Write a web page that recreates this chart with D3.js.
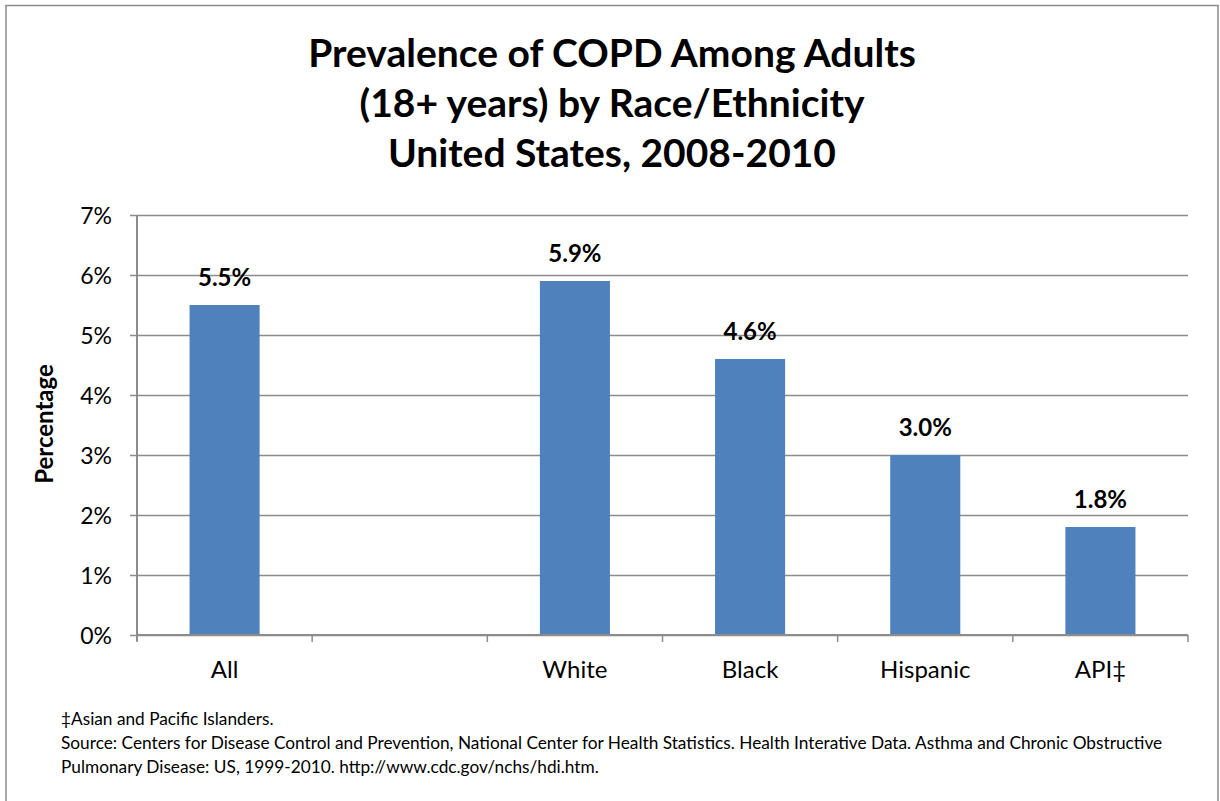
<!DOCTYPE html>
<html>
<head>
<meta charset="utf-8">
<script src="https://cdn.jsdelivr.net/npm/d3@7"></script>
<style>
  body { margin: 0; background: #fff; }
  svg { display: block; font-family: Lato, "Open Sans", sans-serif; }
</style>
</head>
<body>
<svg id="chart" width="1220" height="801"></svg>
<script>
// chart data
var categories = ['All', '', 'White', 'Black', 'Hispanic', 'API\u2021'];
var prevalence = [5.5, null, 5.9, 4.6, 3.0, 1.8];
var valueLabels = ['5.5%', '', '5.9%', '4.6%', '3.0%', '1.8%'];
var yTicks = [0, 1, 2, 3, 4, 5, 6, 7];
var titleLines = ['Prevalence of COPD Among Adults', '(18+ years) by Race/Ethnicity', 'United States, 2008-2010'];
var footnotes = [
    '\u2021Asian and Pacific Islanders.',
    'Source: Centers for Disease Control and Prevention, National Center for Health Statistics. Health Interative Data. Asthma and Chronic Obstructive',
    'Pulmonary Disease: US, 1999-2010. http://www.cdc.gov/nchs/hdi.htm.'
];

var svg = d3.select('#chart'),
    gridColor = '#8c8c8c',
    barColor = '#4f81bd';

var margin = { top: 215, right: 32, bottom: 166, left: 137 },
    width = 1220 - margin.left - margin.right,
    height = 801 - margin.top - margin.bottom;

// outer frame (bottom edge runs off the picture)
svg.append('path')
    .attr('d', 'M6,810 V5.5 H1218 V810')
    .attr('fill', 'none')
    .attr('stroke', gridColor)
    .attr('stroke-width', 1.5);

// title
svg.append('g').selectAll('text')
    .data(titleLines)
    .enter().append('text')
    .attr('x', 612)
    .attr('y', function (d, i) { return 67 + i * 50; })
    .attr('text-anchor', 'middle')
    .attr('font-size', 39)
    .attr('font-weight', 'bold')
    .attr('fill', '#000')
    .text(function (d) { return d; });

var g = svg.append('g')
    .attr('transform', 'translate(' + margin.left + ',' + margin.top + ')');

var x = d3.scaleBand()
    .domain(categories)
    .range([0, width])
    .paddingInner(0.6)
    .paddingOuter(0.3);

var y = d3.scaleLinear()
    .domain([0, 7])
    .range([height, 0]);

// gridlines + y axis
var yAxis = d3.axisLeft(y)
    .tickValues(yTicks)
    .tickSize(-width)
    .tickPadding(12)
    .tickFormat(function (d) { return d + '%'; });

var yg = g.append('g').call(yAxis);
yg.select('.domain').remove();
yg.selectAll('.tick line')
    .attr('x1', -7)
    .attr('stroke', gridColor)
    .attr('stroke-width', 1.5);
yg.selectAll('.tick text')
    .attr('x', -25)
    .attr('dy', '0.36em')
    .attr('font-size', 23)
    .attr('font-family', 'Lato, sans-serif')
    .attr('fill', '#000');

g.append('line')
    .attr('x1', 0).attr('x2', 0)
    .attr('y1', 0).attr('y2', height + 6)
    .attr('stroke', gridColor)
    .attr('stroke-width', 2);

// bars
var bars = g.append('g').selectAll('.bar')
    .data(categories.map(function (c, i) { return { name: c, value: prevalence[i], label: valueLabels[i] }; })
        .filter(function (d) { return d.value !== null; }))
    .enter();

bars.append('rect')
    .attr('x', function (d) { return x(d.name); })
    .attr('width', x.bandwidth())
    .attr('y', function (d) { return y(d.value); })
    .attr('height', function (d) { return height - y(d.value); })
    .attr('fill', barColor);

bars.append('text')
    .attr('x', function (d) { return x(d.name) + x.bandwidth() / 2; })
    .attr('y', function (d) { return y(d.value) - 19; })
    .attr('text-anchor', 'middle')
    .attr('font-size', 24)
    .attr('font-weight', 'bold')
    .text(function (d) { return d.label; });

// x axis with ticks on category boundaries
var step = x.step(),
    boundaries = d3.range(categories.length + 1).map(function (i) { return i * step; });

g.append('line')
    .attr('x1', 0).attr('x2', width)
    .attr('y1', height).attr('y2', height)
    .attr('stroke', gridColor)
    .attr('stroke-width', 2);

g.append('g').selectAll('line')
    .data(boundaries)
    .enter().append('line')
    .attr('x1', function (d) { return d; })
    .attr('x2', function (d) { return d; })
    .attr('y1', height)
    .attr('y2', height + 7)
    .attr('stroke', gridColor)
    .attr('stroke-width', 1.5);

g.append('g').selectAll('text')
    .data(categories)
    .enter().append('text')
    .attr('x', function (d) { return x(d) + x.bandwidth() / 2; })
    .attr('y', height + 43)
    .attr('text-anchor', 'middle')
    .attr('font-size', 24)
    .text(function (d) { return d; });

// y axis title
svg.append('text')
    .attr('transform', 'translate(53,424) rotate(-90)')
    .attr('text-anchor', 'middle')
    .attr('font-size', 24)
    .attr('font-weight', 'bold')
    .text('Percentage');

// footnotes
svg.append('g').selectAll('text')
    .data(footnotes)
    .enter().append('text')
    .attr('x', 61)
    .attr('y', function (d, i) { return 725 + i * 24; })
    .attr('font-size', 17.25)
    .text(function (d) { return d; });
</script>
</body>
</html>
